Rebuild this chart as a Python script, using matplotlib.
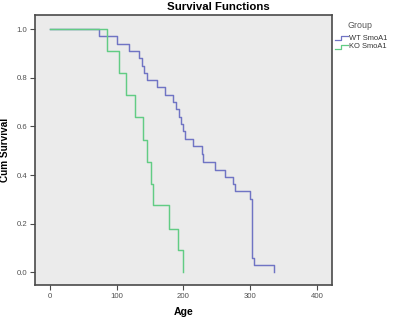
import matplotlib
matplotlib.use("Agg")
import matplotlib.pyplot as plt
from matplotlib.lines import Line2D

# ---- data ----
wt_label = "WT SmoA1"
ko_label = "KO SmoA1"

wt_time = [0, 74, 101, 118, 133, 138, 141, 145, 160, 173, 185, 189, 193, 196,
           199, 203, 215, 228, 230, 248, 263, 275, 278, 300, 303, 305, 335]
wt_surv = [1.0, 0.97, 0.94, 0.91, 0.88, 0.85, 0.82, 0.79, 0.76, 0.73, 0.70,
           0.67, 0.64, 0.61, 0.58, 0.55, 0.52, 0.485, 0.455, 0.42, 0.39, 0.365,
           0.335, 0.30, 0.06, 0.03, 0.0]

ko_time = [0, 86, 104, 114, 128, 140, 146, 152, 155, 179, 192, 200]
ko_surv = [1.0, 0.91, 0.82, 0.73, 0.64, 0.545, 0.455, 0.365, 0.275, 0.18, 0.09, 0.0]

x_ticks = [0, 100, 200, 300, 400]
y_ticks = [0.0, 0.2, 0.4, 0.6, 0.8, 1.0]

title = "Survival Functions"
x_label = "Age"
y_label = "Cum Survival"
legend_title = "Group"

# ---- style ----
W, H = 395, 317
blue = "#7074c4"
green = "#62cc84"
frame_col = "#4a4a4a"
bg = "#ebebeb"
plt.rcParams["font.family"] = ["Liberation Sans", "DejaVu Sans"]

fig = plt.figure(figsize=(W / 100, H / 100), dpi=100)
fig.patch.set_facecolor("white")
ax_l, ax_r, ax_t, ax_b = 35, 331.7, 15, 285
ax = fig.add_axes([ax_l / W, 1 - ax_b / H, (ax_r - ax_l) / W, (ax_b - ax_t) / H])
ax.set_facecolor(bg)

ax.step(wt_time, wt_surv, where="post", color=blue, lw=1.05)
ax.step(ko_time, ko_surv, where="post", color=green, lw=1.05)

ax.set_xlim(-22, 422)
ax.set_ylim(-0.052, 1.058)
ax.set_xticks(x_ticks)
ax.set_xticklabels([str(v) for v in x_ticks])
ax.set_yticks(y_ticks)
ax.set_yticklabels([f"{v:.1f}" for v in y_ticks])
ax.tick_params(axis="both", direction="out", length=3.5, width=0.8,
               color=frame_col, labelsize=5.6, labelcolor="#505050", pad=2)
for s in ax.spines.values():
    s.set_color(frame_col)
    s.set_linewidth(1.2)

ax.set_xlabel(x_label, fontsize=7.6, fontweight="bold", labelpad=5)
ax.set_ylabel(y_label, fontsize=7.2, fontweight="bold")
ax.yaxis.set_label_coords((10.5 - ax_l) / (ax_r - ax_l), 0.5)

fig.text(218 / W, 1 - 7 / H, title, ha="center", va="center",
         fontsize=8.2, fontweight="bold")

# ---- legend (drawn in figure pixel coords) ----
fig.text(348 / W, 1 - 25 / H, legend_title, ha="left", va="center",
         fontsize=6.4, color="#555555")
for yc, col, lab in [(38, blue, wt_label), (47, green, ko_label)]:
    xs = [335, 341, 341, 348]
    ys = [yc + 1.5, yc + 1.5, yc - 2.5, yc - 2.5]
    fig.add_artist(Line2D([x / W for x in xs], [1 - y / H for y in ys],
                          transform=fig.transFigure, color=col, lw=0.9))
    fig.text(349 / W, 1 - yc / H, lab, ha="left", va="center",
             fontsize=5.4, color="#333333")

fig.savefig("out.png", dpi=100)
